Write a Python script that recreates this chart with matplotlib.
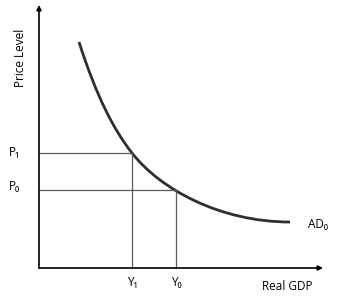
import matplotlib
matplotlib.use("Agg")
import matplotlib.pyplot as plt
from matplotlib.path import Path
from matplotlib.patches import PathPatch

plt.rcParams['font.family'] = ['Open Sans', 'DejaVu Sans']

# AD curve as two cubic Bezier pieces (end points and control points)
ad_pts = [(40, 226), (58, 170), (75, 138), (93, 115),
          (121, 79), (181, 46), (251, 46)]

# equilibrium points
y1, p1 = 93, 115
y0, p0 = 137, 78

fig = plt.figure(figsize=(3.38, 3.0), dpi=100)
ax = fig.add_axes([0, 0, 1, 1])
ax.set_xlim(-39, 299)
ax.set_ylim(-32, 268)
ax.axis('off')

# axes with arrows
ax.annotate('', xy=(0, 263), xytext=(0, 0),
            arrowprops=dict(arrowstyle='-|>', color='black', lw=1.2,
                            mutation_scale=7, shrinkA=0, shrinkB=0))
ax.annotate('', xy=(284, 0), xytext=(0, 0),
            arrowprops=dict(arrowstyle='-|>', color='black', lw=1.2,
                            mutation_scale=7, shrinkA=0, shrinkB=0))

# guide lines
gcol = '#5a5a5a'
ax.plot([0, y1], [p1, p1], color=gcol, lw=0.9)
ax.plot([y1, y1], [0, p1], color=gcol, lw=0.9)
ax.plot([0, y0], [p0, p0], color=gcol, lw=0.9)
ax.plot([y0, y0], [0, p0], color=gcol, lw=0.9)

# AD curve
codes = [Path.MOVETO] + [Path.CURVE4] * 6
ax.add_patch(PathPatch(Path(ad_pts, codes), fill=False, edgecolor='#2e2e2e',
                       lw=2.0, capstyle='butt'))

fs = 8.5
ax.text(-19, 210, 'Price Level', rotation=90, ha='center', va='center', fontsize=fs)
ax.text(-25, p1 + 1, 'P₁', ha='center', va='center', fontsize=fs)
ax.text(-25, p0 + 3, 'P₀', ha='center', va='center', fontsize=fs)
ax.text(y1, -15, 'Y₁', ha='center', va='center', fontsize=fs)
ax.text(y0, -15, 'Y₀', ha='center', va='center', fontsize=fs)
ax.text(248, -18, 'Real GDP', ha='center', va='center', fontsize=fs)
ax.text(279, 43, 'AD₀', ha='center', va='center', fontsize=fs)

fig.savefig('out.png', dpi=100)
